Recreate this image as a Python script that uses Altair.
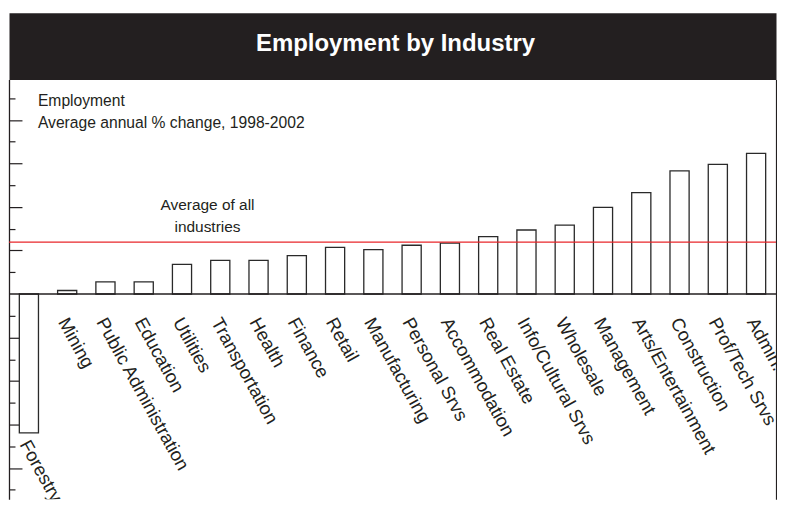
import altair as alt
import pandas as pd

# ---- data ----
industries = [
    "Forestry", "Mining", "Public Administration", "Education", "Utilities",
    "Transportation", "Health", "Finance", "Retail", "Manufacturing",
    "Personal Srvs", "Accommodation", "Real Estate", "Info/Cultural Srvs",
    "Wholesale", "Management", "Arts/Entertainment", "Construction",
    "Prof/Tech Srvs", "Admin. Srvs",
]
growth = [
    -3.19, 0.08, 0.28, 0.28, 0.68,
    0.77, 0.77, 0.88, 1.07, 1.02,
    1.12, 1.17, 1.32, 1.47,
    1.58, 1.99, 2.33, 2.83,
    2.98, 3.23,
]
average_all = 1.19
tick_values = [-4.5, -4, -3.5, -3, -2.5, -2, -1.5, -1, -0.5,
               0.5, 1, 1.5, 2, 2.5, 3, 3.5, 4, 4.5]
title_text = "Employment by Industry"
note_lines = ["Employment", "Average annual % change, 1998-2002"]
avg_label = ["Average of all", "industries"]

W = 769
H = 421
INK = "#231f20"
FONT = "Liberation Sans"

df = pd.DataFrame({"industry": industries, "growth": growth})

xenc = alt.X("industry:N", sort=industries, axis=None,
             scale=alt.Scale(paddingInner=0.5, paddingOuter=0.27))
yscale = alt.Scale(domain=[-4.72, 4.93], nice=False, zero=False)

bars = alt.Chart(df).mark_bar(fill="white", stroke="#2a2a2a", strokeWidth=1.3).encode(
    x=xenc,
    y=alt.Y(
        "growth:Q", scale=yscale, title=None,
        axis=alt.Axis(
            orient="right", offset=-W, values=tick_values, labels=False,
            grid=False, domain=True, domainColor=INK, domainWidth=1.3,
            tickColor=INK, tickWidth=1.2,
            tickSize={"condition": {"test": "datum.value % 1 === 0", "value": 13}, "value": 6},
        ),
    ),
    y2=alt.Y2("base:Q"),
).transform_calculate(base="0")

zero_rule = alt.Chart(pd.DataFrame({"z": [0]})).mark_rule(color=INK, strokeWidth=1.7).encode(
    y=alt.Y("z:Q", scale=yscale, title=None,
            axis=alt.Axis(orient="right", offset=0, ticks=False, labels=False,
                          grid=False, domain=True, domainColor=INK, domainWidth=1.2))
)

avg_rule = alt.Chart(pd.DataFrame({"avg": [average_all]})).mark_rule(
    color="#e8262a", strokeWidth=1.3
).encode(y=alt.Y("avg:Q", scale=yscale, axis=None))

pos_labels = alt.Chart(df).transform_filter("datum.growth >= 0").transform_calculate(
    ly="0"
).mark_text(
    align="left", baseline="top", angle=61, dx=20, dy=7,
    font=FONT, fontSize=18.5, color=INK, clip=True,
).encode(x=xenc, y=alt.Y("ly:Q", scale=yscale, axis=None), text="industry:N")

neg_labels = alt.Chart(df).transform_filter("datum.growth < 0").mark_text(
    align="left", baseline="top", angle=61, dx=5.6, dy=-0.9,
    font=FONT, fontSize=18.5, color=INK, clip=True,
).encode(x=xenc, y=alt.Y("growth:Q", scale=yscale, axis=None), text="industry:N")

note = alt.Chart(pd.DataFrame({"a": [0]})).mark_text(
    text=note_lines, align="left", baseline="alphabetic", lineHeight=22.5,
    font=FONT, fontSize=15.7, color=INK,
).encode(x=alt.value(29), y=alt.value(26.5))

avg_note = alt.Chart(pd.DataFrame({"avg": [average_all]})).mark_text(
    text=avg_label, align="center", baseline="alphabetic", lineHeight=22,
    font=FONT, fontSize=15.5, color=INK, dy=-32,
).encode(x=alt.value(199), y=alt.Y("avg:Q", scale=yscale, axis=None))

main = alt.layer(
    bars, zero_rule, avg_rule, pos_labels, neg_labels, note, avg_note
).resolve_axis(y="independent").properties(
    width=W, height=H, view=alt.ViewBackground(strokeOpacity=0)
)

header = alt.Chart(pd.DataFrame({"t": [title_text]})).mark_text(
    color="white", fontSize=24, fontWeight="bold", font=FONT,
    align="center", baseline="alphabetic",
).encode(text="t:N", x=alt.value(W / 2 + 3), y=alt.value(38)).properties(
    width=W, height=67, view=alt.ViewBackground(fill=INK, strokeOpacity=0)
)

chart = alt.vconcat(header, main, spacing=0).configure(
    padding={"top": 4, "left": 0, "right": 0, "bottom": 0},
    background="white",
).configure_view(strokeOpacity=0)

chart.save("out.html", embed_options={"renderer": "svg", "actions": False})
